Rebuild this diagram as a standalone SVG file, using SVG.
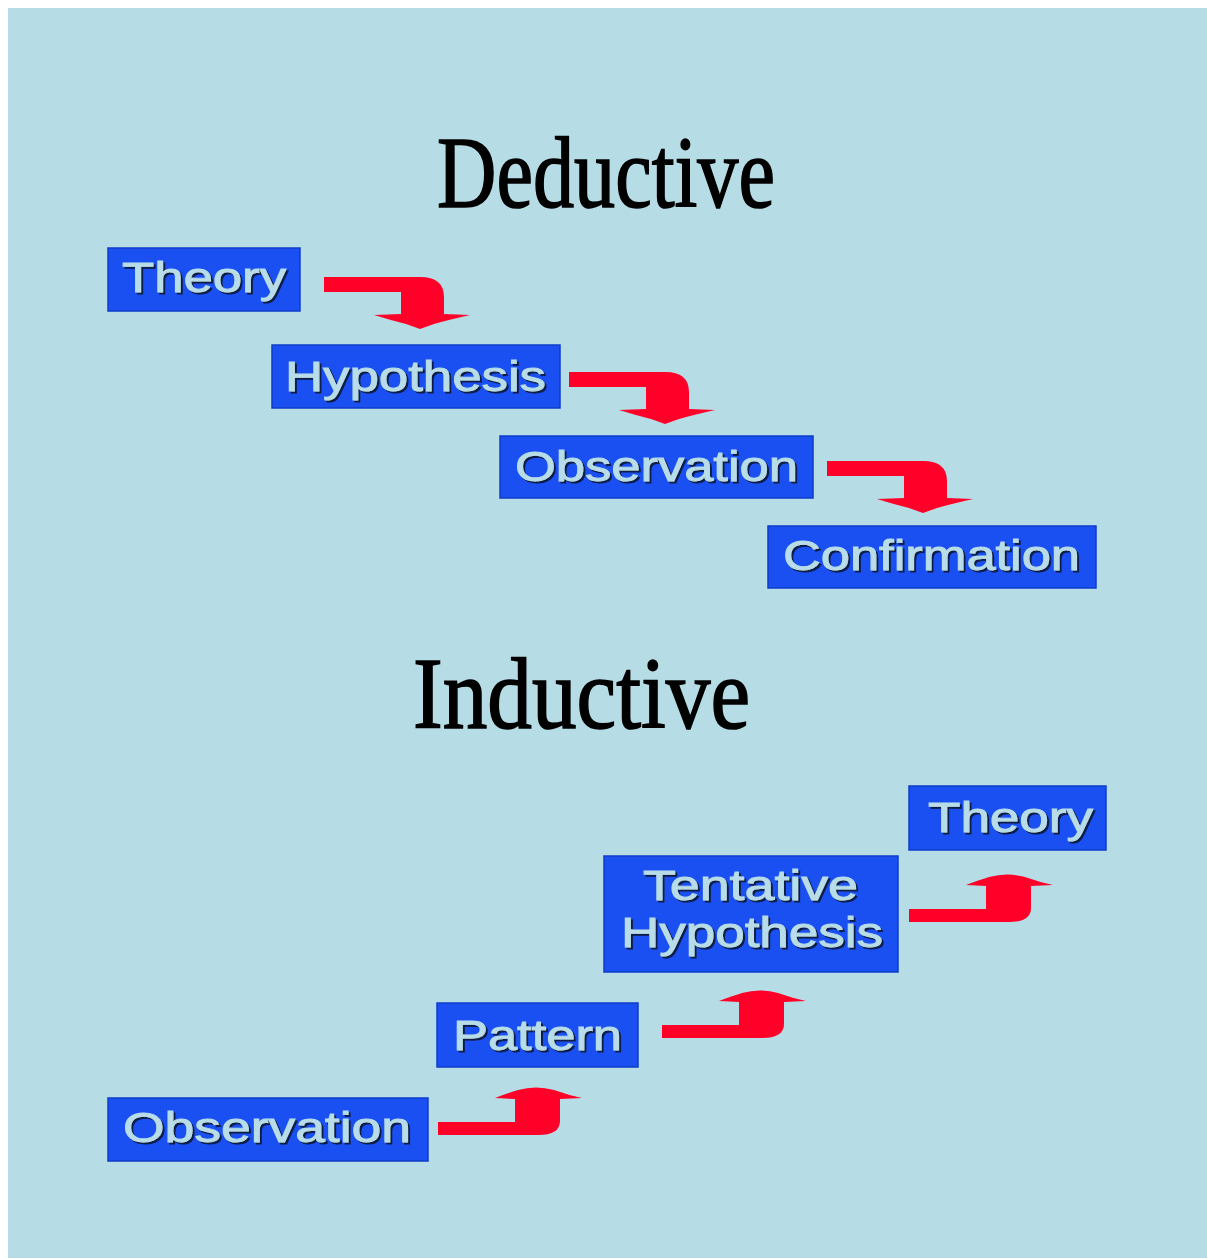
<svg xmlns="http://www.w3.org/2000/svg" width="1207" height="1259" viewBox="0 0 1207 1259">
<defs>
<style>
.title{font-family:"Liberation Serif","Times New Roman",serif;font-size:101px;fill:#000;stroke:#000;stroke-width:1.6px;}
.box{fill:#1a4ff2;stroke:#0f3cc8;stroke-width:1.5;}
.lbl{font-family:"Liberation Sans",Arial,sans-serif;font-size:42px;fill:#b8dde8;stroke:#b8dde8;stroke-width:0.9px;filter:url(#sh);}
.arr{fill:#ff0028;}
</style>
<filter id="sh" x="-5%" y="-20%" width="115%" height="150%">
<feDropShadow dx="2" dy="2" stdDeviation="0.4" flood-color="#0d1c48" flood-opacity="1"/>
</filter>
<path id="down" d="M0,0 H96 Q120,0 120,20 V37 L146,38 Q124,43 110,47 L96,52 L82,47 Q66,43 50,38 L77,37 V15 H0 Z"/>
<path id="up" d="M0,0 V-13 H77 V-36 L57,-37 Q70,-42 80,-45 Q98,-50 116,-45 Q130,-40 144,-37 L122,-36 V-14 Q122,0 100,0 Z"/>
</defs>
<rect x="0" y="0" width="1207" height="1259" fill="#ffffff"/>
<rect x="8" y="8" width="1199" height="1250" fill="#b6dce6"/>

<text class="title" x="437" y="207" textLength="338" lengthAdjust="spacingAndGlyphs">Deductive</text>
<text class="title" x="413" y="728" textLength="337" lengthAdjust="spacingAndGlyphs">Inductive</text>

<g id="connectors">
<use href="#down" class="arr" x="324" y="277"/>
<use href="#down" class="arr" x="569" y="372"/>
<use href="#down" class="arr" x="827" y="461"/>
<use href="#up" class="arr" x="438" y="1135"/>
<use href="#up" class="arr" x="662" y="1038"/>
<use href="#up" class="arr" x="909" y="922"/>
</g>

<g id="d-theory">
<rect class="box" x="108" y="248" width="192" height="63"/>
<text class="lbl" x="122" y="292" textLength="164" lengthAdjust="spacingAndGlyphs">Theory</text>
</g>
<g id="d-hypothesis">
<rect class="box" x="272" y="345" width="288" height="63"/>
<text class="lbl" x="285" y="391" textLength="261" lengthAdjust="spacingAndGlyphs">Hypothesis</text>
</g>
<g id="d-observation">
<rect class="box" x="500" y="436" width="313" height="62"/>
<text class="lbl" x="515" y="481" textLength="283" lengthAdjust="spacingAndGlyphs">Observation</text>
</g>
<g id="d-confirmation">
<rect class="box" x="768" y="526" width="328" height="62"/>
<text class="lbl" x="783" y="570" textLength="297" lengthAdjust="spacingAndGlyphs">Confirmation</text>
</g>

<g id="i-observation">
<rect class="box" x="108" y="1098" width="320" height="63"/>
<text class="lbl" x="123" y="1142" textLength="288" lengthAdjust="spacingAndGlyphs">Observation</text>
</g>
<g id="i-pattern">
<rect class="box" x="437" y="1003" width="201" height="64"/>
<text class="lbl" x="453" y="1050" textLength="169" lengthAdjust="spacingAndGlyphs">Pattern</text>
</g>
<g id="i-tentative">
<rect class="box" x="604" y="856" width="294" height="116"/>
<text class="lbl" x="643" y="900" textLength="215" lengthAdjust="spacingAndGlyphs">Tentative</text>
<text class="lbl" x="621" y="947" textLength="262" lengthAdjust="spacingAndGlyphs">Hypothesis</text>
</g>
<g id="i-theory">
<rect class="box" x="909" y="786" width="197" height="64"/>
<text class="lbl" x="928" y="832" textLength="165" lengthAdjust="spacingAndGlyphs">Theory</text>
</g>
</svg>
